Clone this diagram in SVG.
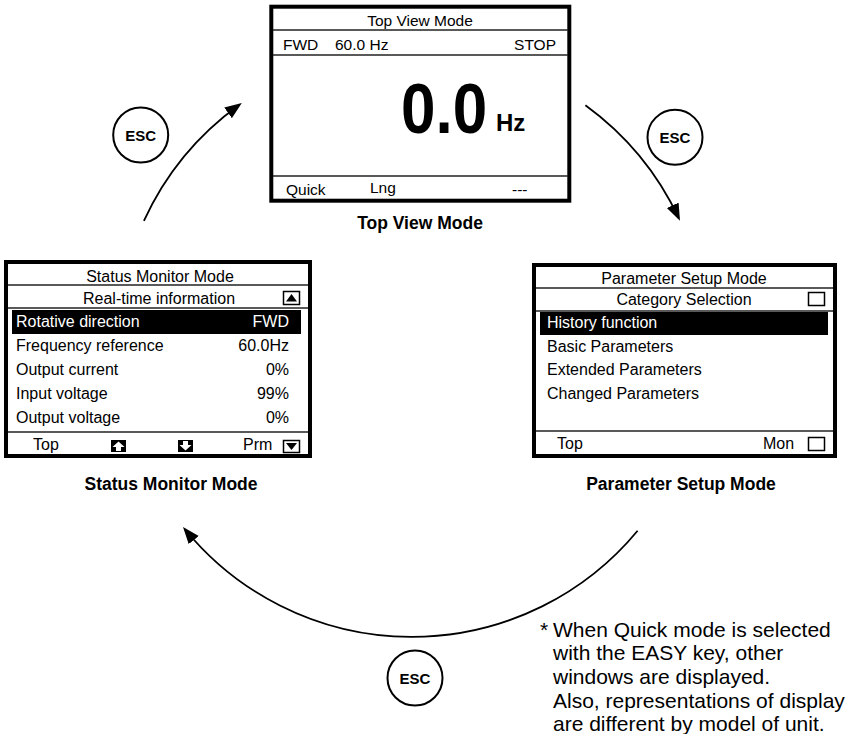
<svg xmlns="http://www.w3.org/2000/svg" width="852" height="734" viewBox="0 0 852 734">
<style>
text{font-family:"Liberation Sans",Arial,Helvetica,sans-serif;fill:#000}
.scr{fill:#fff;stroke:#000;stroke-width:4}
.sep{stroke:#222;stroke-width:1.5;fill:none}
.t16{font-size:16px}
.t15{font-size:15.5px}
.c{text-anchor:middle}
.e{text-anchor:end}
.w{fill:#fff}
.lbl{font-size:17.5px;font-weight:bold;text-anchor:middle}
.esc circle{fill:#fff;stroke:#000;stroke-width:2}
.esc text{font-size:15px;font-weight:bold;text-anchor:middle}
.arc{fill:none;stroke:#000;stroke-width:1.8}
.box{fill:#fff;stroke:#000;stroke-width:1.5}
.note{font-size:21px}
</style>
<defs>
<marker id="ah" markerUnits="userSpaceOnUse" markerWidth="18" markerHeight="14" refX="14" refY="6.5" orient="auto">
<path d="M0,0 L17,6.5 L0,13 z" fill="#000"/>
</marker>
</defs>

<g id="top-view">
<rect class="scr" x="271.3" y="6.7" width="298" height="194"/>
<line class="sep" x1="273" y1="30" x2="568" y2="30"/>
<line class="sep" x1="273" y1="55" x2="568" y2="55"/>
<line class="sep" x1="273" y1="176" x2="568" y2="176"/>
<text class="t15 c" x="420" y="26">Top View Mode</text>
<text class="t15" x="283" y="50">FWD</text>
<text class="t15" x="335" y="50">60.0 Hz</text>
<text class="t15 e" x="556" y="50">STOP</text>
<text transform="translate(401,133) scale(1,1.15)" font-size="62" font-weight="bold">0.0</text>
<text x="496" y="131" font-size="24" font-weight="bold">Hz</text>
<text class="t15" x="286" y="195">Quick</text>
<text class="t15" x="370" y="193">Lng</text>
<text class="t15" x="512" y="195">---</text>
<text class="lbl" x="420" y="229">Top View Mode</text>
</g>

<g id="status-monitor">
<rect class="scr" x="6" y="262" width="304" height="194"/>
<line class="sep" x1="8" y1="285" x2="308" y2="285"/>
<line class="sep" x1="8" y1="308" x2="308" y2="308"/>
<line class="sep" x1="8" y1="432" x2="308" y2="432"/>
<text class="t16 c" x="160" y="282">Status Monitor Mode</text>
<text class="t16 c" x="159" y="304">Real-time information</text>
<rect class="box" x="283.5" y="291.5" width="16" height="13"/>
<path d="M291.5,294 L297,301.5 L286,301.5 z" fill="#000"/>
<rect x="12" y="310" width="289" height="24" fill="#000"/>
<text class="t16 w" x="16" y="327">Rotative direction</text>
<text class="t16 e w" x="289" y="327">FWD</text>
<text class="t16" x="16" y="351">Frequency reference</text>
<text class="t16 e" x="289" y="351">60.0Hz</text>
<text class="t16" x="16" y="375">Output current</text>
<text class="t16 e" x="289" y="375">0%</text>
<text class="t16" x="16" y="399">Input voltage</text>
<text class="t16 e" x="289" y="399">99%</text>
<text class="t16" x="16" y="423">Output voltage</text>
<text class="t16 e" x="289" y="423">0%</text>
<text class="t16" x="33" y="450">Top</text>
<rect x="111" y="440" width="15" height="12" fill="#000"/>
<path d="M118.5,441.5 L124.5,447 L121,447 L121,451 L116,451 L116,447 L112.5,447 z" fill="#fff"/>
<rect x="178" y="440" width="15" height="12" fill="#000"/>
<path d="M183,441 L188,441 L188,445 L191.5,445 L185.5,450.5 L179.5,445 L183,445 z" fill="#fff"/>
<text class="t16" x="243" y="450">Prm</text>
<rect class="box" x="283.5" y="440.5" width="16" height="12"/>
<path d="M286,443 L297,443 L291.5,450 z" fill="#000"/>
<text class="lbl" x="171" y="490">Status Monitor Mode</text>
</g>

<g id="parameter-setup">
<rect class="scr" x="534" y="265" width="301" height="191"/>
<text class="t16 c" x="684" y="284">Parameter Setup Mode</text>
<line class="sep" x1="536" y1="288" x2="833" y2="288"/>
<line class="sep" x1="536" y1="311" x2="833" y2="311"/>
<line class="sep" x1="536" y1="431" x2="833" y2="431"/>
<text class="t16 c" x="684" y="305">Category Selection</text>
<rect class="box" x="808.5" y="292.5" width="16" height="13"/>
<rect x="540" y="312" width="288" height="23" fill="#000"/>
<text class="t16 w" x="547" y="328">History function</text>
<text class="t16" x="547" y="352">Basic Parameters</text>
<text class="t16" x="547" y="375">Extended Parameters</text>
<text class="t16" x="547" y="399">Changed Parameters</text>
<text class="t16" x="557" y="449">Top</text>
<text class="t16" x="763" y="449">Mon</text>
<rect class="box" x="808.5" y="437.5" width="16" height="13"/>
<text class="lbl" x="681" y="490">Parameter Setup Mode</text>
</g>

<g id="connectors">
<path class="arc" d="M143.9,220.8 A295,295 0 0 1 239.4,104.7" marker-end="url(#ah)"/>
<path class="arc" d="M585.4,105.3 A295,295 0 0 1 678.7,218" marker-end="url(#ah)"/>
<path class="arc" d="M637.6,530.7 A293,293 0 0 1 184.9,529.2" marker-end="url(#ah)"/>
</g>

<g id="esc-left" class="esc">
<circle cx="140.7" cy="135" r="27.5"/>
<text x="140.7" y="140.5">ESC</text>
</g>
<g id="esc-right" class="esc">
<circle cx="675" cy="137.3" r="27.5"/>
<text x="675" y="142.8">ESC</text>
</g>
<g id="esc-bottom" class="esc">
<circle cx="415" cy="678" r="27.5"/>
<text x="415" y="683.5">ESC</text>
</g>

<g id="footnote">
<text class="note" x="540" y="637">*</text>
<text class="note" x="553" y="637">When Quick mode is selected</text>
<text class="note" x="553" y="660">with the EASY key, other</text>
<text class="note" x="553" y="684">windows are displayed.</text>
<text class="note" x="553" y="708">Also, representations of display</text>
<text class="note" x="553" y="731">are different by model of unit.</text>
</g>
</svg>
